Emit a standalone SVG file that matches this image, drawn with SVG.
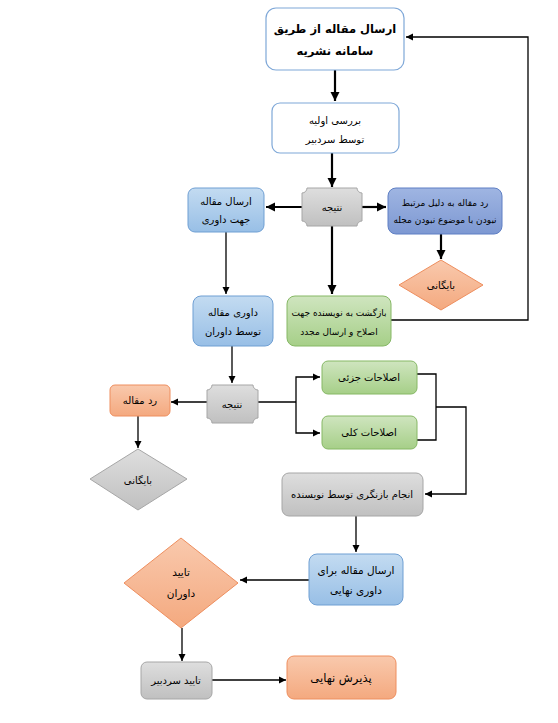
<svg xmlns="http://www.w3.org/2000/svg" width="558" height="723" viewBox="0 0 558 723">
<defs>
<linearGradient id="gBlue" x1="0" y1="0" x2="0" y2="1"><stop offset="0" stop-color="#c3dbf1"/><stop offset="1" stop-color="#98bfe6"/></linearGradient>
<linearGradient id="gPurple" x1="0" y1="0" x2="0" y2="1"><stop offset="0" stop-color="#9fb5e2"/><stop offset="1" stop-color="#7d98d2"/></linearGradient>
<linearGradient id="gGreen" x1="0" y1="0" x2="0" y2="1"><stop offset="0" stop-color="#cfe5bf"/><stop offset="1" stop-color="#a6cf88"/></linearGradient>
<linearGradient id="gGray" x1="0" y1="0" x2="0" y2="1"><stop offset="0" stop-color="#dedede"/><stop offset="1" stop-color="#c0c0c0"/></linearGradient>
<linearGradient id="gOrange" x1="0" y1="0" x2="0" y2="1"><stop offset="0" stop-color="#f9c9ad"/><stop offset="1" stop-color="#f4a97f"/></linearGradient>
<marker id="ah" markerWidth="8" markerHeight="8" refX="7" refY="4" orient="auto" markerUnits="userSpaceOnUse"><path d="M0,0.5 L7,4 L0,7.5 Z" fill="#000"/></marker>
<marker id="ahb" markerWidth="10" markerHeight="10" refX="9" refY="5" orient="auto" markerUnits="userSpaceOnUse"><path d="M0,0.5 L9,5 L0,9.5 Z" fill="#000"/></marker>
</defs>
<style>
text{font-family:"DejaVu Sans","Noto Sans",sans-serif;font-size:10px;fill:#000;text-anchor:middle}
.b{font-weight:bold;font-size:11.5px}
.s{font-size:9px}
.blue{fill:url(#gBlue);stroke:#6f9fd3;stroke-width:1}
.purple{fill:url(#gPurple);stroke:#5f7fc4;stroke-width:1}
.green{fill:url(#gGreen);stroke:#86b865;stroke-width:1}
.gray{fill:url(#gGray);stroke:#a6a6a6;stroke-width:1}
.orange{fill:url(#gOrange);stroke:#ee8e5e;stroke-width:1}
.white{fill:#fff;stroke:#7fa8d8;stroke-width:1.2}
.c{fill:none;stroke:#000;stroke-width:1.3}
.ct{fill:none;stroke:#000;stroke-width:2.2}
</style>
<g id="connectors">
<line class="ct" x1="335" y1="70" x2="335" y2="101" marker-end="url(#ahb)"/>
<line class="ct" x1="332" y1="153" x2="332" y2="187" marker-end="url(#ahb)"/>
<line class="ct" x1="302" y1="207" x2="266" y2="207" marker-end="url(#ahb)"/>
<line class="ct" x1="362" y1="207" x2="386" y2="207" marker-end="url(#ahb)"/>
<line class="ct" x1="332" y1="226" x2="332" y2="294" marker-end="url(#ahb)"/>
<line class="ct" x1="441" y1="234" x2="441" y2="259" marker-end="url(#ahb)"/>
<line class="c" x1="226" y1="232" x2="226" y2="294" marker-end="url(#ah)"/>
<polyline class="c" points="391,320 528,320 528,37 406,37" marker-end="url(#ah)"/>
<line class="c" x1="232" y1="346" x2="232" y2="383" marker-end="url(#ah)"/>
<line class="c" x1="207" y1="402" x2="171" y2="402" marker-end="url(#ah)"/>
<line class="c" x1="138" y1="416" x2="138" y2="448" marker-end="url(#ah)"/>
<line class="c" x1="258" y1="402" x2="296" y2="402"/>
<polyline class="c" points="296,402 296,377 320,377" marker-end="url(#ah)"/>
<polyline class="c" points="296,402 296,433 320,433" marker-end="url(#ah)"/>
<polyline class="c" points="417,374 436,374 436,440 417,440"/>
<polyline class="c" points="436,407 466,407 466,494 425,494" marker-end="url(#ah)"/>
<line class="c" x1="356" y1="516" x2="356" y2="552" marker-end="url(#ah)"/>
<line class="c" x1="309" y1="580" x2="240" y2="580" marker-end="url(#ah)"/>
<line class="c" x1="182" y1="628" x2="182" y2="661" marker-end="url(#ah)"/>
<line class="c" x1="212" y1="680" x2="286" y2="680" marker-end="url(#ah)"/>
</g>
<g id="n_submit">
<rect class="white" x="266" y="8" width="138" height="62" rx="10"/>
<text class="b" x="335" y="33">ارسال مقاله از طریق</text>
<text class="b" x="335" y="55">سامانه نشریه</text>
</g>
<g id="n_review">
<rect class="white" x="272" y="103" width="127" height="50" rx="8"/>
<text x="335" y="124">بررسی اولیه</text>
<text x="335" y="143">توسط سردبیر</text>
</g>
<g id="n_result1">
<path class="gray" d="M307,188 L357,188 A5,5 0 0 0 362,193 L362,221 A5,5 0 0 0 357,226 L307,226 A5,5 0 0 0 302,221 L302,193 A5,5 0 0 0 307,188 Z"/>
<text x="332" y="211">نتیجه</text>
</g>
<g id="n_send_review">
<rect class="blue" x="188" y="188" width="76" height="44" rx="7"/>
<text x="226" y="205">ارسال مقاله</text>
<text x="226" y="223">جهت داوری</text>
</g>
<g id="n_reject1">
<rect class="purple" x="388" y="188" width="114" height="46" rx="8"/>
<text class="s" x="445" y="206">رد مقاله به دلیل مرتبط</text>
<text class="s" x="445" y="223">نبودن با موضوع نبودن مجله</text>
</g>
<g id="n_archive1">
<polygon class="orange" points="441,260 483,285 441,310 399,285"/>
<text x="441" y="289">بایگانی</text>
</g>
<g id="n_return">
<rect class="green" x="287" y="296" width="104" height="50" rx="8"/>
<text class="s" x="339" y="316">بازگشت به نویسنده جهت</text>
<text class="s" x="339" y="335">اصلاح و ارسال مجدد</text>
</g>
<g id="n_referee">
<rect class="blue" x="193" y="296" width="80" height="50" rx="8"/>
<text x="233" y="316">داوری مقاله</text>
<text x="233" y="335">توسط داوران</text>
</g>
<g id="n_result2">
<path class="gray" d="M212,385 L253,385 A5,5 0 0 0 258,390 L258,418 A5,5 0 0 0 253,423 L212,423 A5,5 0 0 0 207,418 L207,390 A5,5 0 0 0 212,385 Z"/>
<text x="232" y="408">نتیجه</text>
</g>
<g id="n_reject2">
<rect class="orange" x="110" y="385" width="60" height="31" rx="5"/>
<text x="140" y="404">رد مقاله</text>
</g>
<g id="n_archive2">
<polygon class="gray" points="138,449 187,479 138,510 90,479"/>
<text x="138" y="484">بایگانی</text>
</g>
<g id="n_minor">
<rect class="green" x="322" y="361" width="95" height="33" rx="6"/>
<text x="369" y="381">اصلاحات جزئی</text>
</g>
<g id="n_major">
<rect class="green" x="322" y="416" width="95" height="33" rx="6"/>
<text x="369" y="436">اصلاحات کلی</text>
</g>
<g id="n_revision">
<rect class="gray" x="282" y="473" width="141" height="43" rx="7"/>
<text x="352" y="498">انجام بازنگری توسط نویسنده</text>
</g>
<g id="n_final_review">
<rect class="blue" x="309" y="554" width="94" height="51" rx="8"/>
<text x="356" y="574" style="font-size:10.5px">ارسال مقاله برای</text>
<text x="356" y="594" style="font-size:10.5px">داوری نهایی</text>
</g>
<g id="n_referee_ok">
<polygon class="orange" points="181,538 238,583 181,628 124,583"/>
<text x="181" y="576" style="font-size:10.5px">تایید</text>
<text x="181" y="597" style="font-size:10.5px">داوران</text>
</g>
<g id="n_editor_ok">
<rect class="gray" x="141" y="662" width="71" height="37" rx="6"/>
<text x="176" y="684">تایید سردبیر</text>
</g>
<g id="n_accept">
<rect class="orange" x="287" y="656" width="109" height="43" rx="7"/>
<text x="341" y="682" style="font-size:11.5px">پذیرش نهایی</text>
</g>
</svg>
